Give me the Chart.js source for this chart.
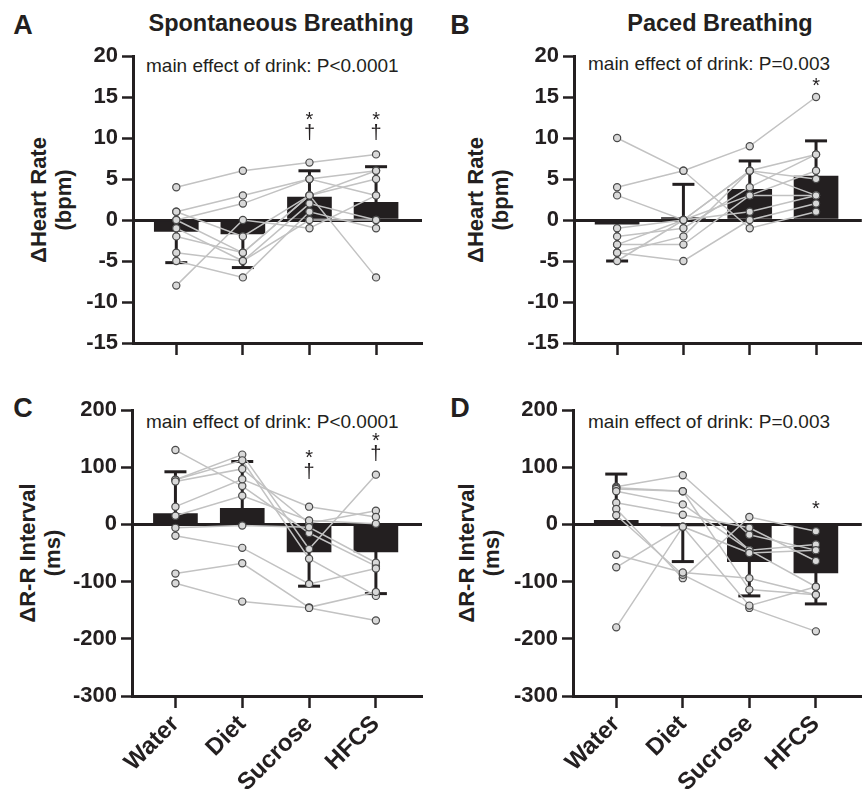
<!DOCTYPE html>
<html><head><meta charset="utf-8">
<script src="https://cdn.jsdelivr.net/npm/chart.js@4.4.1/dist/chart.umd.min.js"></script>
<style>
body{margin:0;background:#fff;width:867px;height:789px;overflow:hidden;position:relative;font-family:"Liberation Sans",Arial,sans-serif;color:#231f20}
canvas{position:absolute}
.t{position:absolute;white-space:nowrap;line-height:1;transform:translate(-50%,-50%)}
.lbl{position:absolute;white-space:nowrap;line-height:1;transform:translateY(-50%);font-size:19px}
.yt{position:absolute;white-space:nowrap;line-height:1.15;text-align:center;font-weight:bold;font-size:22px;transform:translate(-50%,-50%) rotate(-90deg)}
</style></head><body>
<div class="t" style="left:23px;top:25px;font-weight:bold;font-size:27px">A</div>
<div class="t" style="left:460px;top:25px;font-weight:bold;font-size:27px">B</div>
<div class="t" style="left:23px;top:408px;font-weight:bold;font-size:27px">C</div>
<div class="t" style="left:460px;top:408px;font-weight:bold;font-size:27px">D</div>
<div class="t" style="left:281px;top:24px;font-weight:bold;font-size:23.5px">Spontaneous Breathing</div>
<div class="t" style="left:720px;top:24px;font-weight:bold;font-size:23.5px">Paced Breathing</div>
<div class="lbl" style="left:146px;top:65px">main effect of drink: P&lt;0.0001</div>
<div class="lbl" style="left:588px;top:63px">main effect of drink: P=0.003</div>
<div class="lbl" style="left:146px;top:421px">main effect of drink: P&lt;0.0001</div>
<div class="lbl" style="left:588px;top:421px">main effect of drink: P=0.003</div>
<div class="yt" style="left:51px;top:200px">ΔHeart Rate<br>(bpm)</div>
<div class="yt" style="left:488px;top:200px">ΔHeart Rate<br>(bpm)</div>
<div class="yt" style="left:40px;top:553px">ΔR-R Interval<br>(ms)</div>
<div class="yt" style="left:479px;top:553px">ΔR-R Interval<br>(ms)</div>

<canvas id="cA" width="440" height="400" style="left:0;top:0"></canvas>
<canvas id="cB" width="427" height="400" style="left:440px;top:0"></canvas>
<canvas id="cC" width="440" height="409" style="left:0;top:380px"></canvas>
<canvas id="cD" width="427" height="409" style="left:440px;top:380px"></canvas>

<script>
const drinks = ['Water', 'Diet', 'Sucrose', 'HFCS'];

// Panel A: ΔHeart Rate, spontaneous breathing
const hrSponMean = [-1.4, -1.7, 2.8, 2.15];
const hrSponSD = [3.8, 4.1, 3.2, 4.35];
const hrSponSubjects = [
  [4, 6, 7, 8], [1, 3, 5, 6], [1, -2, 3, 5], [0, 2, 5, 3], [0, -4, 3, 6],
  [-1, -5, 2, 0], [-2, -4, 3, -7], [-4, -5, 0, 0], [-5, -7, 1, -1], [-8, 0, -1, 3]
];
const hrSponMarks = [['*', 2, 12.6], ['†', 2, 10.6], ['*', 3, 12.6], ['†', 3, 10.6]];

// Panel B: ΔHeart Rate, paced breathing
const hrPacedMean = [-0.5, 0.3, 3.75, 5.35];
const hrPacedSD = [4.5, 4.05, 3.45, 4.3];
const hrPacedSubjects = [
  [10, 6, -1, 1], [4, 6, 9, 15], [3, 0, 6, 3], [-1, 0, 6, 8], [-2, -1, 4, 8],
  [-3, -3, 3, 6], [-3, 0, 1, 3], [-4, -2, 6, 5], [-4, -5, 0, 2], [-5, 0, 3, 3]
];
const hrPacedMarks = [['*', 3, 16.8]];

// Panel C: ΔR-R interval, spontaneous breathing
const rrSponMean = [19, 28, -48, -48];
const rrSponSD = [73, 82, 60, 73];
const rrSponSubjects = [
  [130, 67, -15, -73], [78, 122, -43, 87], [78, 112, -60, -125], [75, 97, 2, 24], [31, 79, 31, 13],
  [15, 50, 7, 1], [-6, -2, -5, -67], [-20, -41, -104, -77], [-86, -68, -145, -118], [-103, -135, -146, -168]
];
const rrSponMarks = [['*', 2, 122], ['†', 2, 91], ['*', 3, 152], ['†', 3, 122]];

// Panel D: ΔR-R interval, paced breathing
const rrPacedMean = [7, -2, -65, -85];
const rrPacedSD = [81, 63, 60, 54];
const rrPacedSubjects = [
  [66, 86, -18, -45], [64, 58, -45, -109], [62, 58, -114, -123], [58, 35, -45, -35], [38, 17, -6, -64],
  [27, -94, 13, -12], [16, -88, -146, -187], [-53, -84, -94, -123], [-75, -4, -50, -45], [-180, -4, -142, -109]
];
const rrPacedMarks = [['*', 3, 33]];

const INK = '#231f20';
const FONT = '"Liberation Sans", Arial, sans-serif';
Chart.defaults.font.family = FONT;
Chart.defaults.color = INK;

const errorBarPlugin = {
  id: 'errbars',
  afterDatasetDraw(chart, args) {
    const ds = chart.data.datasets[args.index];
    if (!ds.errors) return;
    const ctx = chart.ctx, xs = chart.scales.x, ys = chart.scales.y;
    ctx.save();
    ctx.strokeStyle = INK;
    ds.data.forEach((p, i) => {
      const dir = p.y >= 0 ? 1 : -1;
      const x = xs.getPixelForValue(p.x);
      const y0 = ys.getPixelForValue(p.y);
      const y1 = ys.getPixelForValue(p.y + dir * ds.errors[i]);
      ctx.lineWidth = 3;
      ctx.beginPath(); ctx.moveTo(x, y0); ctx.lineTo(x, y1); ctx.stroke();
      ctx.beginPath(); ctx.moveTo(x - 11, y1); ctx.lineTo(x + 11, y1); ctx.stroke();
    });
    ctx.restore();
  }
};

const marksPlugin = {
  id: 'marks',
  afterDatasetsDraw(chart) {
    const marks = chart.options.plugins.marks.items || [];
    const ctx = chart.ctx, xs = chart.scales.x, ys = chart.scales.y;
    ctx.save();
    ctx.fillStyle = INK;
    ctx.font = '20px ' + FONT;
    ctx.textAlign = 'center';
    ctx.textBaseline = 'middle';
    marks.forEach(([t, i, v]) => {
      ctx.fillText(t, xs.getPixelForValue(i), ys.getPixelForValue(v) + (t === '*' ? 4 : 0));
    });
    ctx.restore();
  }
};

function makeChart(id, cfg) {
  const { means, sds, subjects, marks, yMin, yMax, step, showLabels, yWidth, xHeight, pad } = cfg;
  const datasets = [];
  datasets.push({
    type: 'bar', data: means.map((m, i) => ({ x: i, y: m })), errors: sds,
    backgroundColor: INK, borderWidth: 0, barThickness: 44, order: 2
  });
  subjects.forEach(s => datasets.push({
    type: 'line', data: s.map((v, i) => ({ x: i, y: v })),
    borderColor: '#c2c2c2', borderWidth: 1.5, pointRadius: 0, order: 1
  }));
  datasets.push({
    type: 'line', showLine: false,
    data: subjects.flatMap(s => s.map((v, i) => ({ x: i, y: v }))),
    pointRadius: 3.6, pointBackgroundColor: '#d9d9d9', pointBorderColor: '#4a4a4a',
    pointBorderWidth: 1.2, order: 0
  });
  return new Chart(document.getElementById(id), {
    type: 'bar',
    data: { datasets },
    plugins: [errorBarPlugin, marksPlugin],
    options: {
      responsive: false, animation: false,
      layout: { padding: pad },
      plugins: { legend: { display: false }, tooltip: { enabled: false }, marks: { items: marks } },
      scales: {
        x: {
          type: 'linear', min: -0.65, max: 3.69, offset: false,
          afterBuildTicks: s => { s.ticks = drinks.map((d, i) => ({ value: i })); },
          ticks: {
            autoSkip: false, maxRotation: 45, minRotation: 45, padding: 2,
            callback: v => showLabels ? drinks[v] : '',
            font: { size: 24, weight: 'bold' }, color: INK
          },
          grid: { offset: false, drawOnChartArea: false, drawTicks: true, tickLength: 12, tickColor: INK, tickWidth: 2.5, color: 'rgba(0,0,0,0)' },
          border: { display: true, color: INK, width: 3 },
          afterFit: s => { s.height = xHeight; }
        },
        y: {
          min: yMin, max: yMax,
          ticks: { stepSize: step, padding: 4, font: { size: 22, weight: 'bold' }, color: INK },
          grid: {
            offset: false,
            color: c => (c.tick && c.tick.value === 0) ? INK : 'rgba(0,0,0,0)',
            lineWidth: c => (c.tick && c.tick.value === 0) ? 3 : 1,
            tickColor: INK, tickWidth: 2.5, tickLength: 11, drawTicks: true
          },
          border: { display: true, color: INK, width: 3 },
          afterFit: s => { s.width = yWidth; }
        }
      }
    }
  });
}

makeChart('cA', { means: hrSponMean, sds: hrSponSD, subjects: hrSponSubjects, marks: hrSponMarks,
  yMin: -15, yMax: 20, step: 5, showLabels: false, yWidth: 133, xHeight: 57, pad: { left: 0, top: 56, right: 18, bottom: 0 } });
makeChart('cB', { means: hrPacedMean, sds: hrPacedSD, subjects: hrPacedSubjects, marks: hrPacedMarks,
  yMin: -15, yMax: 20, step: 5, showLabels: false, yWidth: 134, xHeight: 57, pad: { left: 0, top: 56, right: 4, bottom: 0 } });
makeChart('cC', { means: rrSponMean, sds: rrSponSD, subjects: rrSponSubjects, marks: rrSponMarks,
  yMin: -300, yMax: 200, step: 100, showLabels: true, yWidth: 132, xHeight: 93, pad: { left: 0, top: 30, right: 18, bottom: 0 } });
makeChart('cD', { means: rrPacedMean, sds: rrPacedSD, subjects: rrPacedSubjects, marks: rrPacedMarks,
  yMin: -300, yMax: 200, step: 100, showLabels: true, yWidth: 133, xHeight: 93, pad: { left: 0, top: 30, right: 4, bottom: 0 } });
</script>
</body></html>
